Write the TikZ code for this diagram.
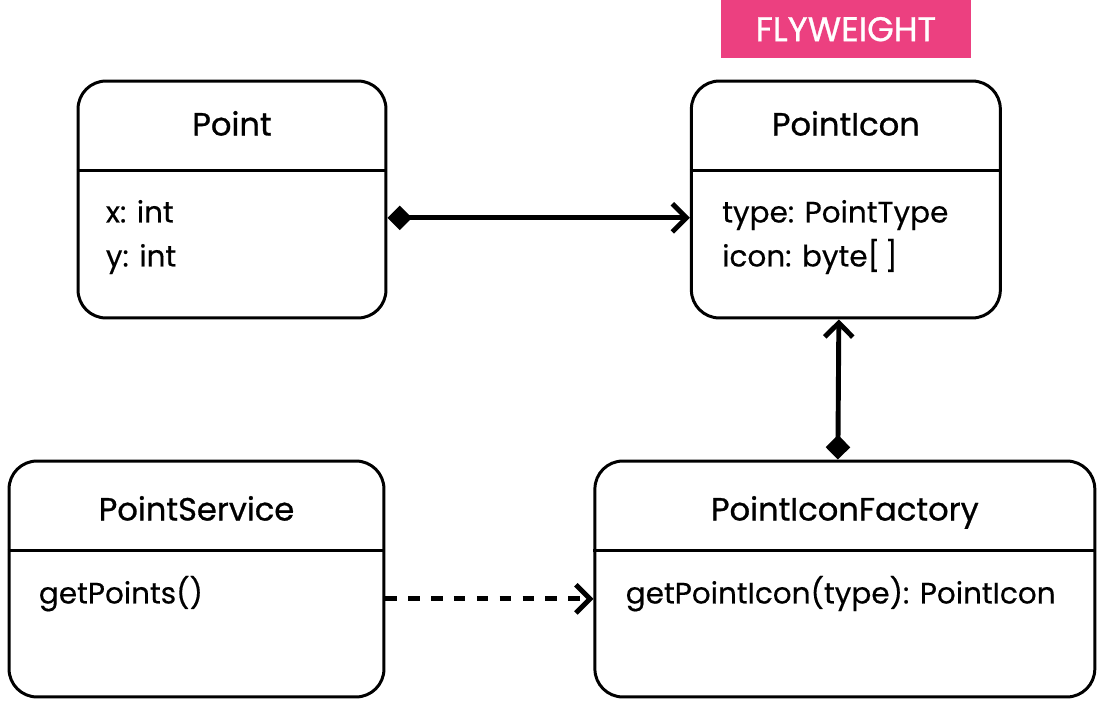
\documentclass[tikz,border=0pt]{standalone}
\usepackage{fontspec}
\setmainfont{Poppins}[FakeBold=0.4]
\newfontfamily\medfont{Poppins}[FakeBold=0.8]
\usepackage{tikz}
\usetikzlibrary{arrows.meta, positioning}
\definecolor{tagpink}{RGB}{236,64,128}

\begin{document}
\begin{tikzpicture}[
  x=0.02cm, y=-0.02cm,
  cls/.style={draw, line width=1.7pt, rectangle, rounded corners=0.56cm, minimum height=4.74cm},
  title/.style={anchor=base, inner sep=0pt, font=\medfont\fontsize{18.3}{22}\selectfont},
  attr/.style={anchor=base west, inner sep=0pt, text height=0.75em, text depth=0.22em, font=\fontsize{16.8}{20}\selectfont},
  sep/.style={line width=1.7pt},
  comp/.style={{Diamond[length=14pt,width=14pt]}-{Straight Barb[length=8pt,width=16pt]}, line width=2.8pt},
  dep/.style={-{Straight Barb[length=8pt,width=16pt]}, line width=2.8pt, dash pattern=on 6.5pt off 6.5pt}
]
\useasboundingbox (0,0) rectangle (1107,705);

% classes
\node[cls, minimum width=6.16cm] (point) at (232,199.5) {};
\node[cls, minimum width=6.18cm, right=6.05cm of point] (icon) {};
\node[cls, minimum width=7.5cm, minimum height=4.72cm] (service) at (196.5,579) {};
\node[cls, minimum width=10cm, minimum height=4.72cm, right=4.16cm of service] (factory) {};

\node[fill=tagpink, minimum width=5cm, minimum height=1.16cm, above=0.42cm of icon,
  text=white, font=\medfont\fontsize{19.5}{22}\selectfont] (tag) {FLYWEIGHT};

% titles and dividers
\foreach \c/\t/\b in {point/Point/1.12, icon/PointIcon/1.12, service/PointService/1.22, factory/PointIconFactory/1.22} {
  \node[title] (\c-title) at ([yshift=-\b cm]\c.north) {\t};
  \draw[sep] ([yshift=-1.82cm]\c.north west) -- ([yshift=-1.82cm]\c.north east);
}

% members
\node[attr] (px) at ([xshift=0.58cm, yshift=-2.86cm]point.north west) {x: int};
\node[attr] (py) at ([xshift=0.58cm, yshift=-3.74cm]point.north west) {y: int};
\node[attr] (itype) at ([xshift=0.64cm, yshift=-2.86cm]icon.north west) {type: PointType};
\node[attr] (iicon) at ([xshift=0.64cm, yshift=-3.74cm]icon.north west) {icon: byte[\,]};
\node[attr] (sget) at ([xshift=0.62cm, yshift=-2.88cm]service.north west) {getPoints()};
\node[attr] (fget) at ([xshift=0.64cm, yshift=-2.88cm]factory.north west) {getPointIcon(type): PointIcon};

% relations
\draw[comp] (point.east |- px) -- (icon.west |- px);
\draw[comp] ([xshift=-0.14cm]factory.north) -- ([xshift=-0.14cm]icon.south);
\draw[dep] (service.east |- sget) -- (factory.west |- sget);
\end{tikzpicture}
\end{document}
